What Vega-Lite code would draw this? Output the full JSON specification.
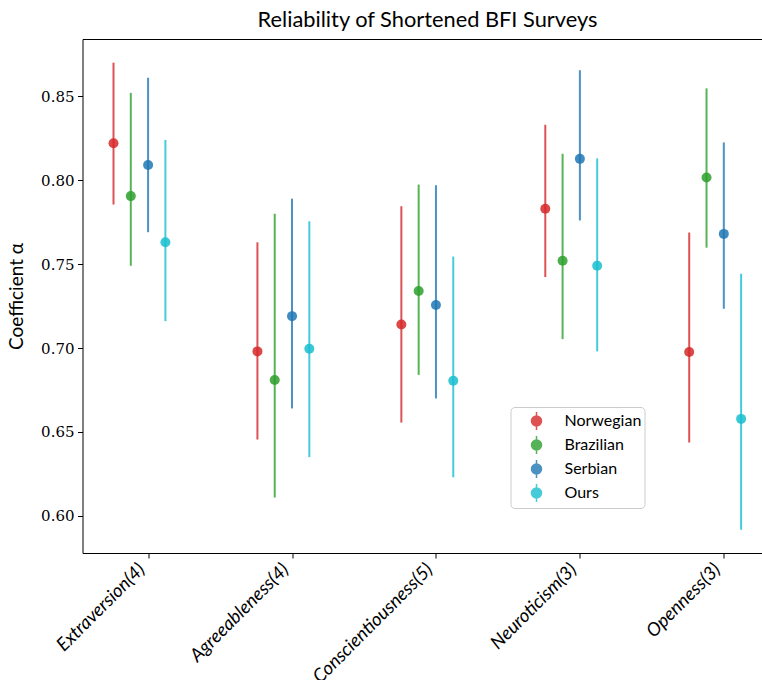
{
  "$schema": "https://vega.github.io/schema/vega-lite/v6.json",
  "autosize": {"type": "none"},
  "padding": {"left": 82.5, "top": 39, "right": 0, "bottom": 127},
  "width": 690,
  "height": 514,
  "title": {"text": "Reliability of Shortened BFI Surveys", "font": "Lato", "fontSize": 21.8, "fontWeight": "normal", "color": "black", "baseline": "alphabetic", "offset": 13, "dy": 23},
  "config": {
    "view": {"stroke": "black", "strokeWidth": 1},
    "axis": {"grid": false, "domain": false, "tickColor": "black", "tickSize": 5, "tickWidth": 1, "labelColor": "black", "titleColor": "black"}
  },
  "data": {"values": [
    {"trait": "Extraversion(4)", "survey": "Norwegian", "alpha": 0.822, "lo": 0.7855, "hi": 0.870},
    {"trait": "Extraversion(4)", "survey": "Brazilian", "alpha": 0.7905, "lo": 0.749, "hi": 0.852},
    {"trait": "Extraversion(4)", "survey": "Serbian", "alpha": 0.809, "lo": 0.769, "hi": 0.861},
    {"trait": "Extraversion(4)", "survey": "Ours", "alpha": 0.763, "lo": 0.716, "hi": 0.824},
    {"trait": "Agreeableness(4)", "survey": "Norwegian", "alpha": 0.698, "lo": 0.6455, "hi": 0.763},
    {"trait": "Agreeableness(4)", "survey": "Brazilian", "alpha": 0.681, "lo": 0.611, "hi": 0.780},
    {"trait": "Agreeableness(4)", "survey": "Serbian", "alpha": 0.719, "lo": 0.664, "hi": 0.789},
    {"trait": "Agreeableness(4)", "survey": "Ours", "alpha": 0.6996, "lo": 0.635, "hi": 0.7755},
    {"trait": "Conscientiousness(5)", "survey": "Norwegian", "alpha": 0.714, "lo": 0.6556, "hi": 0.7845},
    {"trait": "Conscientiousness(5)", "survey": "Brazilian", "alpha": 0.734, "lo": 0.684, "hi": 0.7974},
    {"trait": "Conscientiousness(5)", "survey": "Serbian", "alpha": 0.7256, "lo": 0.670, "hi": 0.797},
    {"trait": "Conscientiousness(5)", "survey": "Ours", "alpha": 0.6805, "lo": 0.623, "hi": 0.7545},
    {"trait": "Neuroticism(3)", "survey": "Norwegian", "alpha": 0.783, "lo": 0.7423, "hi": 0.833},
    {"trait": "Neuroticism(3)", "survey": "Brazilian", "alpha": 0.752, "lo": 0.7053, "hi": 0.8157},
    {"trait": "Neuroticism(3)", "survey": "Serbian", "alpha": 0.8127, "lo": 0.776, "hi": 0.8655},
    {"trait": "Neuroticism(3)", "survey": "Ours", "alpha": 0.749, "lo": 0.698, "hi": 0.813},
    {"trait": "Openness(3)", "survey": "Norwegian", "alpha": 0.6976, "lo": 0.6437, "hi": 0.7688},
    {"trait": "Openness(3)", "survey": "Brazilian", "alpha": 0.8016, "lo": 0.7598, "hi": 0.8547},
    {"trait": "Openness(3)", "survey": "Serbian", "alpha": 0.768, "lo": 0.7234, "hi": 0.8225},
    {"trait": "Openness(3)", "survey": "Ours", "alpha": 0.6578, "lo": 0.5918, "hi": 0.7443}
  ]},
  "encoding": {
    "x": {"field": "trait", "type": "nominal", "sort": null,
      "scale": {"type": "point", "padding": 0.397, "align": 0.574},
      "axis": {"title": null, "labelAngle": -45, "labelAlign": "right", "labelBaseline": "bottom", "labelPadding": 15, "labelFont": "Lato", "labelFontStyle": "italic", "labelFontSize": 18.5}},
    "xOffset": {"field": "survey", "type": "nominal",
      "scale": {"type": "point", "domain": ["Norwegian", "Brazilian", "Serbian", "Ours"], "range": [-34.6, 17.3], "padding": 0}},
    "color": {"field": "survey", "type": "nominal",
      "scale": {"domain": ["Norwegian", "Brazilian", "Serbian", "Ours"], "range": ["#d62728", "#2ca02c", "#1f77b4", "#17becf"]},
      "legend": {"title": null, "orient": "none", "legendX": 428, "legendY": 368, "padding": 3, "symbolOffset": 12, "labelOffset": 17, "rowPadding": 0,
        "symbolType": "M0,-0.9V0.9M0.5,0A0.5,0.5,0,1,1,-0.5,0A0.5,0.5,0,1,1,0.5,0Z", "symbolSize": 400,
        "labelFont": "Lato", "labelFontSize": 16, "labelColor": "black",
        "strokeColor": "#cccccc", "cornerRadius": 4, "fillColor": "white",
        "encode": {"symbols": {"update": {"fill": {"scale": "color", "field": "value"}, "stroke": {"scale": "color", "field": "value"}, "strokeWidth": {"value": 2}, "opacity": {"value": 0.85}}}}}}
  },
  "layer": [
    {"mark": {"type": "rule", "strokeWidth": 2, "opacity": 0.8},
     "encoding": {
       "y": {"field": "lo", "type": "quantitative",
         "scale": {"domain": [0.5779, 0.8841], "nice": false, "zero": false},
         "axis": {"title": "Coefficient α", "values": [0.6, 0.65, 0.7, 0.75, 0.8, 0.85], "format": ".2f", "labelFont": "DejaVu Serif", "labelFontSize": 15, "labelPadding": 3.5, "titleFont": "Lato", "titleFontSize": 19, "titleFontWeight": "normal", "titlePadding": 14}},
       "y2": {"field": "hi"}
     }},
    {"mark": {"type": "point", "filled": true, "size": 100, "opacity": 0.85},
     "encoding": {"y": {"field": "alpha", "type": "quantitative"}}}
  ]
}
